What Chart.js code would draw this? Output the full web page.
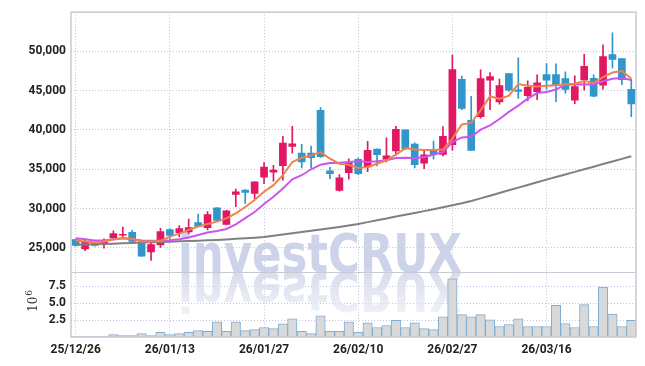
<!DOCTYPE html>
<html><head><meta charset="utf-8">
<script src="https://cdn.jsdelivr.net/npm/chart.js@4.4.1/dist/chart.umd.min.js"></script>
<style>html,body{margin:0;padding:0;background:#fff;}canvas{display:block;}</style>
</head><body>
<canvas id="c" width="645" height="366"></canvas>
<script>
const dates = ['25/12/26','25/12/29','25/12/30','26/01/02','26/01/05','26/01/06','26/01/07','26/01/08','26/01/09','26/01/12',
'26/01/13','26/01/14','26/01/15','26/01/16','26/01/19','26/01/20','26/01/21','26/01/22','26/01/23','26/01/26',
'26/01/27','26/01/28','26/01/29','26/01/30','26/02/02','26/02/03','26/02/04','26/02/05','26/02/06','26/02/09',
'26/02/10','26/02/11','26/02/12','26/02/13','26/02/19','26/02/20','26/02/23','26/02/24','26/02/25','26/02/26',
'26/02/27','26/03/03','26/03/04','26/03/05','26/03/06','26/03/09','26/03/10','26/03/11','26/03/12','26/03/13',
'26/03/16','26/03/17','26/03/18','26/03/19','26/03/20','26/03/23','26/03/24','26/03/25','26/03/26','26/03/27'];
const opens = [26050,24870,25540,25650,26270,26600,26970,25710,24490,25380,
27320,26930,27030,28200,27570,30100,27990,31790,32340,31910,
34000,34620,35460,37910,37060,37060,42500,34790,32290,34570,
36270,35290,37570,36270,37320,40010,38200,35760,37530,36900,
38120,46440,41230,41710,46340,43560,47190,45130,44370,44880,
47060,47060,46560,43810,46400,46590,45710,49600,49090,45170];
const highs = [26100,26140,25700,26150,27150,27650,27230,25710,25800,27480,
27400,27820,28670,29300,29600,30100,29800,32470,32400,33400,
35840,35510,39180,40480,38170,37950,42850,35250,34320,36340,
36430,38550,37600,39000,40480,40010,38370,37400,38580,40440,
49550,46850,44280,47660,47320,46470,47190,49180,46270,47030,
48450,48420,47400,46890,49630,47030,50830,52370,49090,46470];
const lows = [25200,24620,25200,24950,26200,26200,25800,23900,23390,25040,
26100,26430,26770,27700,27280,28400,27900,30230,30650,31150,
33180,33480,33610,37060,35170,35170,36500,33810,32200,33740,
34300,34700,35420,35930,36770,37500,35160,35080,36300,36700,
37430,42600,37400,41500,42600,43300,44900,44020,43740,43860,
45200,43610,44700,43360,45080,44200,45200,47910,45760,41710];
const closes = [25290,25800,25290,25750,26810,26700,25800,23940,25420,27060,
26560,27440,27570,27730,29220,28490,29720,32130,32040,33390,
35290,34910,38330,38240,35930,36470,36600,34440,33900,35800,
34440,37400,36850,36720,40100,37610,35580,36850,36900,39180,
47700,42750,37400,46550,46810,45670,45080,44920,45420,46020,
46340,45760,45170,45530,48110,44320,49340,49000,46400,43310];
const ma5 = [25920,25800,25710,25800,26050,26220,26140,25800,25800,25890,
26430,26810,27280,27700,28040,28330,28750,29380,30190,31080,
32130,32980,34240,35930,36470,36770,37190,36340,35710,35580,
35170,35290,35710,36140,36850,37660,37530,37440,37440,37510,
38900,40700,40900,42500,44300,43940,44370,45840,45630,45550,
45630,45710,45840,45900,46270,45990,46740,47320,47510,46550];
const ma10 = [26220,26090,25920,25920,26090,26220,26090,25920,25890,25890,
25960,26090,26300,26640,26940,27150,27400,27980,28780,29550,
30570,31490,32540,33730,34240,35000,35580,35800,35840,35930,
36010,35930,36010,36140,36430,36470,36430,36560,36850,37190,
38470,39060,39130,40050,40600,41400,42300,43100,44000,44700,
44850,45150,45800,45800,45820,45800,46200,46530,46620,46360];
const maLong = [25380,25420,25440,25480,25520,25570,25610,25660,25700,25730,
25780,25820,25860,25900,25950,26000,26060,26140,26220,26290,
26380,26530,26680,26850,27000,27160,27320,27480,27660,27850,
28040,28270,28510,28730,28980,29220,29440,29670,29910,30170,
30420,30670,30950,31290,31630,31980,32320,32660,33000,33340,
33680,34010,34340,34670,35000,35330,35660,35990,36320,36650];
const volumes = [0.05,0.05,0.05,0.08,0.35,0.2,0.2,0.5,0.2,0.7,
0.35,0.5,0.7,0.95,0.85,2.25,0.85,2.25,0.95,1.1,
1.4,1.25,1.95,2.7,0.85,0.5,3.15,0.85,0.85,2.25,
0.7,2.1,1.4,1.7,2.45,1.4,2.1,1.25,1.1,3.0,
8.6,3.3,3.0,3.3,2.55,1.55,1.85,2.7,1.55,1.55,
1.55,4.7,2.0,1.4,4.8,1.55,7.4,3.4,1.55,2.45];
const priceTicks = [25000,30000,35000,40000,45000,50000];
const volumeTicks = [2.5,5.0,7.5];

const UP = '#e21862', DOWN = '#3196c9';
const candleColors = opens.map((o,i)=> closes[i] >= o ? UP : DOWN);
const GRID = 'rgba(185,185,215,0.85)';
const tickFont = {family:'Roboto', size:12, weight:'bold'};

const framePlugin = {
  id:'frame',
  beforeDatasetsDraw(chart){
    const ctx = chart.ctx, ys = chart.scales.y, yv = chart.scales.yv, a = chart.chartArea;
    const base = ys.bottom;
    const text = 'investCRUX';
    ctx.save();
    ctx.font = 'bold 53px "DejaVu Sans"';
    const w = ctx.measureText(text).width;
    const sx = 284 / w;
    ctx.translate(178, base - 0.5);
    ctx.scale(sx, 1);
    ctx.fillStyle = 'rgba(200,206,230,0.9)';
    ctx.fillText(text, 0, 0);
    ctx.restore();
    ctx.save();
    ctx.beginPath(); ctx.rect(a.left, base, a.right - a.left, yv.bottom - base); ctx.clip();
    ctx.font = 'bold 53px "DejaVu Sans"';
    ctx.translate(178, base + 1);
    ctx.scale(sx, -1);
    const g = ctx.createLinearGradient(0, 0, 0, -45);
    g.addColorStop(0, 'rgba(214,218,236,0.95)');
    g.addColorStop(1, 'rgba(232,234,244,0.6)');
    ctx.fillStyle = g;
    ctx.fillText(text, 0, 0);
    ctx.restore();
  },
  afterDraw(chart){
    const ctx = chart.ctx, ys = chart.scales.y, a = chart.chartArea;
    ctx.save();
    ctx.strokeStyle = '#c9c9d2';
    ctx.lineWidth = 1.5;
    ctx.strokeRect(a.left, a.top, a.right - a.left, a.bottom - a.top);
    ctx.lineWidth = 1;
    ctx.beginPath(); ctx.moveTo(a.left, Math.round(ys.bottom)+0.5); ctx.lineTo(a.right, Math.round(ys.bottom)+0.5); ctx.stroke();
    ctx.fillStyle = '#333';
    ctx.translate(37, 312);
    ctx.rotate(-Math.PI/2);
    ctx.font = '12px "DejaVu Serif"';
    ctx.textBaseline = 'alphabetic';
    ctx.fillText('10', 0, 0);
    const tw = ctx.measureText('10').width;
    ctx.font = '9px "DejaVu Serif"';
    ctx.fillText('6', tw + 1, -5);
    ctx.restore();
  }
};

new Chart(document.getElementById('c'), {
  data: {
    labels: dates,
    datasets: [
      {type:'line', label:'MA5', data: ma5, yAxisID:'y', borderColor:'#f0824e', borderWidth:2, pointRadius:0, tension:0, order:0},
      {type:'line', label:'MA10', data: ma10, yAxisID:'y', borderColor:'#cc55ee', borderWidth:2, pointRadius:0, tension:0, order:1},
      {type:'line', label:'MA long', data: maLong, yAxisID:'y', borderColor:'#808080', borderWidth:2, pointRadius:0, tension:0, order:1},
      {type:'bar', label:'body', data: opens.map((o,i)=>[o, closes[i]]), yAxisID:'y', backgroundColor: candleColors, barThickness:7, grouped:false, order:2},
      {type:'bar', label:'wick', data: lows.map((l,i)=>[l, highs[i]]), yAxisID:'y', backgroundColor: candleColors, barThickness:1, grouped:false, order:3},
      {type:'bar', label:'volume', data: volumes, yAxisID:'yv', backgroundColor:'#d9d9d9', borderColor:'#7eaed3', borderWidth:1, barPercentage:1, categoryPercentage:1, grouped:false, order:4}
    ]
  },
  options: {
    responsive:false, devicePixelRatio:1, animation:false,
    layout:{padding:{top:9, right:9, left:0, bottom:0}},
    plugins:{legend:{display:false}, tooltip:{enabled:false}},
    scales:{
      x:{
        type:'category', offset:true,
        grid:{offset:false, drawTicks:false, lineWidth:1, color:(c)=> (c.index % 10 === 0) ? GRID : 'transparent'},
        border:{display:false, dash:[1,2]},
        ticks:{autoSkip:false, maxRotation:0, minRotation:0, padding:6, color:'#222', font:tickFont,
          callback:(v,i)=> i % 10 === 0 ? dates[i] : ''},
        afterFit:(s)=>{ s.height = 29; }
      },
      y:{
        position:'left', stack:'p', stackWeight:262.5, weight:1,
        min:21900, max:55000,
        afterBuildTicks:(s)=>{ s.ticks = priceTicks.map(v=>({value:v})); },
        grid:{drawTicks:false, color:GRID, lineWidth:1},
        border:{display:false, dash:[1,2]},
        ticks:{padding:5, color:'#222', font:tickFont, callback:(v)=> Number(v).toLocaleString('en-US')},
        afterFit:(s)=>{ s.width = 71; }
      },
      yv:{
        position:'left', stack:'p', stackWeight:65.5, weight:0,
        min:0, max:9.6,
        afterBuildTicks:(s)=>{ s.ticks = volumeTicks.map(v=>({value:v})); },
        grid:{drawTicks:false, color:GRID, lineWidth:1},
        border:{display:false, dash:[1,2]},
        ticks:{padding:5, color:'#222', font:tickFont, callback:(v)=> Number(v).toFixed(1)},
        afterFit:(s)=>{ s.width = 71; }
      }
    }
  },
  plugins:[framePlugin]
});
</script>
</body></html>
